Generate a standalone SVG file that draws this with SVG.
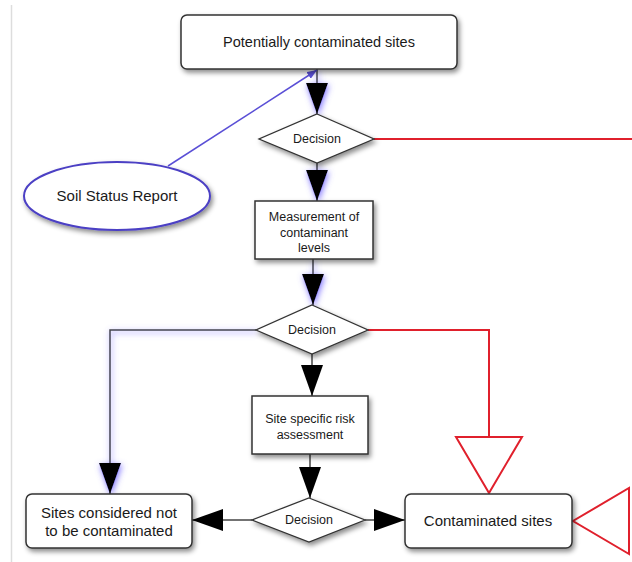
<svg xmlns="http://www.w3.org/2000/svg" width="632" height="562" viewBox="0 0 632 562">
<defs>
<filter id="shadow" x="-20%" y="-20%" width="140%" height="150%">
<feDropShadow dx="2" dy="3" stdDeviation="2.5" flood-color="#000" flood-opacity="0.45"/>
</filter>
<filter id="glow" filterUnits="userSpaceOnUse" x="0" y="0" width="632" height="562">
<feFlood flood-color="#6a5cff" flood-opacity="0.85" result="c"/>
<feComposite in="c" in2="SourceAlpha" operator="in" result="a"/>
<feGaussianBlur in="a" stdDeviation="3" result="b"/>
<feOffset in="b" dx="1" dy="2" result="o"/>
<feMerge><feMergeNode in="o"/><feMergeNode in="SourceGraphic"/></feMerge>
</filter>
<marker id="ah" viewBox="0 0 31 22" refX="31" refY="11" markerWidth="31" markerHeight="22" orient="auto" markerUnits="userSpaceOnUse">
<path d="M0,0 L31,11 L0,22 Z" fill="#000"/>
</marker>
<marker id="hollow" viewBox="-2 -2 60 70" refX="56" refY="33" markerWidth="60" markerHeight="70" orient="auto" markerUnits="userSpaceOnUse">
<path d="M0,0 L56,33 L0,66 Z" fill="#fff" stroke="#e0202c" stroke-width="2"/>
</marker>
<marker id="small" viewBox="0 0 10 8" refX="10" refY="4" markerWidth="10" markerHeight="8" orient="auto" markerUnits="userSpaceOnUse">
<path d="M0,0 L10,4 L0,8 Z" fill="#5a4fd6"/>
</marker>
</defs>
<style>
.box{fill:#fff;stroke:#333;stroke-width:1.5;filter:url(#shadow)}
.dia{fill:#fff;stroke:#333;stroke-width:1.3;filter:url(#shadow)}
.t{font-family:"Liberation Sans",Arial,sans-serif;fill:#1a1a1a;text-anchor:middle}
.big{font-size:14.5px}
.med{font-size:15px}
.sm{font-size:12.5px}
.blk{fill:none;stroke:#444;stroke-width:1.5;marker-end:url(#ah)}
.glow{filter:url(#glow)}
.red{fill:none;stroke:#e0202c;stroke-width:2}
.blue{fill:none;stroke:#5a4fd6;stroke-width:1.5}
</style>
<rect width="632" height="562" fill="#fff"/>
<path d="M11.5,5 V562" stroke="#ddd" stroke-width="1.5"/>
<g id="connectors">
<path class="blk glow" d="M317,69 V114"/>
<path class="blk glow" d="M317,163 V201"/>
<path class="blk glow" d="M313,259 V305"/>
<path class="blk glow" d="M256,330 H110 V494"/>
<path class="blk" d="M312,354 V396"/>
<path class="blk" d="M310,454 V498"/>
<path class="blk" d="M252,520 H192"/>
<path class="blk" d="M365,520 H405"/>
<path class="red" d="M374,139 H640"/>
<path class="red" d="M368,330 H489 V493" marker-end="url(#hollow)"/>
<path class="red" d="M629,521 H573" marker-end="url(#hollow)"/>
<path class="blue" d="M168,166 L317,70" marker-end="url(#small)"/>
</g>
<g id="potentially">
<rect class="box" x="181" y="15" width="276" height="54" rx="6"/>
<text class="t big" x="319" y="47">Potentially contaminated sites</text>
</g>
<g id="soil">
<ellipse cx="117" cy="196" rx="93" ry="34" fill="#fff" stroke="#4b3fc4" stroke-width="2" filter="url(#shadow)"/>
<text class="t med" x="117" y="201">Soil Status Report</text>
</g>
<g id="decision1">
<polygon class="dia" points="317,114 374,139 317,163 259,139"/>
<text class="t sm" x="317" y="143">Decision</text>
</g>
<g id="measurement">
<rect class="box" x="255" y="201" width="118" height="58"/>
<text class="t sm" x="314" y="221">Measurement of</text>
<text class="t sm" x="314" y="237">contaminant</text>
<text class="t sm" x="314" y="252">levels</text>
</g>
<g id="decision2">
<polygon class="dia" points="312,305 368,330 312,354 256,330"/>
<text class="t sm" x="312" y="334">Decision</text>
</g>
<g id="risk">
<rect class="box" x="252" y="396" width="116" height="58"/>
<text class="t sm" x="310" y="423">Site specific risk</text>
<text class="t sm" x="310" y="439">assessment</text>
</g>
<g id="decision3">
<polygon class="dia" points="309,498 365,520 309,542 252,520"/>
<text class="t sm" x="309" y="524">Decision</text>
</g>
<g id="notcontaminated">
<rect class="box" x="26" y="494" width="166" height="54" rx="6"/>
<text class="t med" x="109" y="518">Sites considered not</text>
<text class="t med" x="109" y="536">to be contaminated</text>
</g>
<g id="contaminated">
<rect class="box" x="405" y="494" width="167" height="54" rx="6"/>
<text class="t med" x="488" y="526">Contaminated sites</text>
</g>
</svg>
